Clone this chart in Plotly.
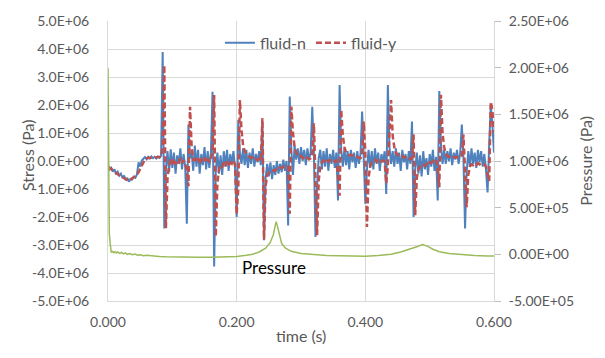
import plotly.graph_objects as go

# Sampling grid of the stress traces (s)
t_step = 0.0025
time_s = [round(i * t_step, 4) for i in range(241)]

# Stress, fluid-n (MPa)
stress_n_mpa = [
    -0.15, -0.30, -0.24, -0.38, -0.30, -0.45, -0.38, -0.52, -0.45, -0.60,
    -0.52, -0.68, -0.60, -0.74, -0.64, -0.66, -0.56, -0.60, -0.48, -0.05,
    -0.20, 0.02, 0.08, 0.14, 0.06, 0.15, 0.09, 0.16, 0.10, 0.15,
    0.09, 0.16, 0.11, 0.18, 3.89, -2.41, -0.30, 0.35, -0.40, 0.42,
    -0.25, 0.30, -0.45, 0.20, -0.10, 0.45, -0.30, 0.25, -0.20, -2.24,
    1.30, 0.10, 0.30, -0.35, 0.55, -0.20, 0.40, -0.45, 0.25, -0.15,
    0.50, -0.30, 0.35, -0.25, 0.30, 2.47, -3.77, -0.40, 0.30, -0.45,
    0.20, -0.50, 0.35, -0.20, 0.40, -0.35, 0.25, -0.10, 0.35, -0.25,
    -2.00, 1.47, 0.30, -0.10, 0.45, -0.15, 0.40, -0.25, 0.30, -0.10,
    0.45, -0.20, 0.25, -0.05, 0.35, -0.15, 1.41, -2.83, -0.60, -0.10,
    -0.55, -0.05, -0.65, -0.15, -0.50, 0.00, -0.45, -0.10, -0.40, 0.05,
    -0.35, 0.00, -2.30, 2.30, 0.40, -0.50, 0.55, 0.05, 0.45, -0.10,
    0.50, 0.00, 0.40, -0.15, 0.45, 0.05, 0.30, 1.94, 0.30, -2.71,
    -0.90, 0.10, 0.40, -0.30, 0.35, -0.20, 0.45, -0.35, 0.25, -0.10,
    0.40, -0.25, 0.30, -1.41, 2.71, 0.40, -0.20, 0.45, -0.15, 0.35,
    -0.30, 0.40, -0.05, 0.30, -0.25, 0.35, -0.10, 0.25, 1.77, 0.20,
    -1.53, -0.30, 0.40, -0.25, 0.35, -0.30, 0.45, -0.10, 0.30, -0.35,
    0.25, -0.05, 0.35, -1.18, 2.71, 0.50, -0.10, 0.35, -0.20, 0.45,
    -0.10, 0.30, -0.35, 0.40, -0.05, 0.25, -0.30, 0.35, -0.10, 1.41,
    -2.00, -0.30, 0.30, -0.45, 0.20, -0.55, 0.35, -0.30, 0.10, -0.50,
    0.25, -0.20, 0.40, -0.35, 0.15, -1.41, 2.50, 0.60, -0.10, 0.40,
    -0.10, 0.35, 0.00, 0.45, -0.15, 0.30, 0.05, 0.40, -0.10, 0.30,
    1.30, 0.10, -2.41, -0.40, 0.35, -0.20, 0.45, -0.10, 0.30, -0.25,
    0.40, -0.05, 0.35, -0.20, 0.25, -0.30, -1.12, 0.60, 2.00, 1.30,
    0.30,
]

# Stress, fluid-y (MPa)
stress_y_mpa = [
    -0.20, -0.25, -0.30, -0.34, -0.39, -0.43, -0.47, -0.51, -0.55, -0.58,
    -0.62, -0.65, -0.68, -0.70, -0.66, -0.62, -0.58, -0.54, -0.50, -0.40,
    -0.28, -0.15, -0.02, 0.06, 0.10, 0.11, 0.12, 0.12, 0.13, 0.12,
    0.13, 0.13, 0.14, 0.15, 0.50, 3.42, -2.40, -0.60, -0.15, 0.05,
    -0.10, 0.08, -0.12, 0.00, -0.05, 0.10, -0.08, 0.02, -0.10, -0.30,
    -0.90, 1.94, 0.50, 0.05, 0.08, -0.05, 0.10, -0.10, 0.05, -0.02,
    0.12, -0.05, 0.08, -0.04, 0.10, 0.30, 2.36, -2.70, -0.80, -0.30,
    -0.15, -0.20, -0.05, -0.18, -0.02, -0.15, -0.05, -0.10, 0.00, -0.12,
    -1.90, -1.00, 2.18, 1.10, 0.55, 0.35, 0.25, 0.18, 0.15, 0.10,
    0.12, 0.05, 0.08, 0.03, 0.06, 0.00, 1.53, -2.80, -0.90, -0.50,
    -0.42, -0.38, -0.40, -0.33, -0.35, -0.28, -0.30, -0.24, -0.25, -0.20,
    -0.22, -0.18, -0.20, -1.88, 1.94, 1.00, 0.50, 0.30, 0.22, 0.15,
    0.18, 0.10, 0.14, 0.08, 0.12, 0.06, 0.10, 0.30, 1.35, -0.40,
    -2.65, -0.70, -0.20, -0.05, 0.02, -0.03, 0.05, -0.02, 0.03, 0.00,
    0.04, -0.02, 0.02, -0.50, -1.24, 1.83, 0.90, 0.50, 0.30, 0.25,
    0.20, 0.22, 0.18, 0.17, 0.14, 0.15, 0.12, 0.10, 0.20, 1.41,
    0.30, -2.36, -0.60, -0.20, -0.05, 0.00, 0.05, -0.03, 0.02, -0.05,
    0.00, 0.02, -0.02, -0.80, -0.20, 0.80, 2.18, 0.90, 0.50, 0.30,
    0.22, 0.20, 0.15, 0.18, 0.12, 0.14, 0.08, 0.10, 0.06, 0.10,
    0.95, -1.94, -0.60, -0.30, -0.20, -0.22, -0.15, -0.18, -0.10, -0.15,
    -0.05, -0.08, 0.00, -0.05, 0.02, -0.20, -0.94, 2.36, 1.00, 0.50,
    0.25, 0.18, 0.15, 0.17, 0.13, 0.15, 0.12, 0.14, 0.12, 0.13,
    0.20, 0.94, -0.30, -1.65, -0.50, -0.20, -0.12, -0.15, -0.10, -0.14,
    -0.08, -0.12, -0.08, -0.10, -0.12, -0.20, -0.50, -0.71, 2.12, 1.80,
    1.00,
]

# Pressure trace (own sample times)
p_time_s = [
    0.0, 0.0005, 0.001, 0.002, 0.003, 0.004, 0.005, 0.007, 0.009, 0.011,
    0.013, 0.015, 0.018, 0.021, 0.024, 0.027, 0.030, 0.034, 0.038, 0.042,
    0.046, 0.050, 0.055, 0.060, 0.070, 0.080, 0.090, 0.100, 0.120, 0.140,
    0.160, 0.180, 0.200, 0.215, 0.225, 0.235, 0.245, 0.252, 0.257, 0.260,
    0.2615, 0.263, 0.266, 0.270, 0.276, 0.285, 0.300, 0.320, 0.340, 0.360,
    0.380, 0.400, 0.420, 0.440, 0.455, 0.470, 0.480, 0.489, 0.497, 0.505,
    0.515, 0.530, 0.550, 0.570, 0.590, 0.600,
]
pressure_pa = [
    2.0e6, 1.0e6, 2.6e5, 2.3e5, 1.4e5, 5.0e4, 2.5e4, 3.2e4, 1.8e4, 2.8e4,
    1.5e4, 2.5e4, 1.0e4, 2.0e4, 5.0e3, 1.5e4, 0.0, 8.0e3, -5.0e3, 3.0e3,
    -1.0e4, -4.0e3, -1.5e4, -1.0e4, -2.0e4, -2.2e4, -2.6e4, -2.8e4, -3.0e4, -3.2e4,
    -3.2e4, -3.0e4, -2.4e4, -1.0e4, 2.0e3, 2.5e4, 6.5e4, 1.25e5, 2.1e5, 3.1e5,
    3.5e5, 3.1e5, 2.1e5, 1.15e5, 6.5e4, 3.2e4, 1.0e4, -5.0e3, -1.2e4, -1.6e4,
    -1.9e4, -2.0e4, -1.2e4, 2.0e3, 2.5e4, 5.5e4, 8.2e4, 1.06e5, 8.5e4, 5.5e4,
    2.8e4, 1.0e4, -3.0e3, -1.2e4, -1.7e4, -1.8e4,
]

# Axis ticks
stress_ticks = [-5e6, -4e6, -3e6, -2e6, -1e6, 0, 1e6, 2e6, 3e6, 4e6, 5e6]
stress_tick_text = ["-5.0E+06", "-4.0E+06", "-3.0E+06", "-2.0E+06", "-1.0E+06",
                    "0.0E+00", "1.0E+06", "2.0E+06", "3.0E+06", "4.0E+06", "5.0E+06"]
pressure_ticks = [-5e5, 0, 5e5, 1e6, 1.5e6, 2e6, 2.5e6]
pressure_tick_text = ["-5.00E+05", "0.00E+00", "5.00E+05", "1.00E+06",
                      "1.50E+06", "2.00E+06", "2.50E+06"]
time_ticks = [0.0, 0.2, 0.4, 0.6]
time_tick_text = ["0.000", "0.200", "0.400", "0.600"]

FONT = "Lato"
GREY = "#595959"
GRID = "#D9D9D9"

fig = go.Figure()
fig.add_trace(go.Scatter(
    x=time_s, y=[v * 1e6 for v in stress_n_mpa], name="fluid-n", mode="lines",
    line=dict(color="#4F81BD", width=2),
))
fig.add_trace(go.Scatter(
    x=time_s, y=[v * 1e6 for v in stress_y_mpa], name="fluid-y", mode="lines",
    line=dict(color="#C0504D", width=2.5, dash="6px,3px"),
))
fig.add_trace(go.Scatter(
    x=p_time_s, y=pressure_pa, name="Pressure", mode="lines", yaxis="y2",
    line=dict(color="#9BBB59", width=1.5), showlegend=False,
))

fig.update_layout(
    width=605, height=358,
    margin=dict(l=108, r=111, t=18, b=57),
    paper_bgcolor="white", plot_bgcolor="white",
    font=dict(family=FONT, color=GREY, size=14),
    showlegend=True,
    legend=dict(orientation="h", x=0.29, y=0.922, xanchor="left", yanchor="middle",
                bgcolor="rgba(0,0,0,0)", font=dict(size=16, color=GREY),
                itemwidth=30, tracegroupgap=0),
    xaxis=dict(range=[0, 0.6], tickvals=time_ticks, ticktext=time_tick_text,
               showgrid=True, gridcolor=GRID, gridwidth=1, zeroline=False,
               showline=True, linecolor=GRID, ticks="", ticklabelstandoff=8,
               tickfont=dict(size=14, color=GREY)),
    yaxis=dict(range=[-5e6, 5e6], tickvals=stress_ticks, ticktext=stress_tick_text,
               showgrid=True, gridcolor=GRID, gridwidth=1, zeroline=False,
               showline=True, linecolor=GRID, ticks="", ticklabelstandoff=15,
               tickfont=dict(size=14, color=GREY)),
    yaxis2=dict(range=[-5e5, 2.5e6], tickvals=pressure_ticks, ticktext=pressure_tick_text,
                overlaying="y", side="right", showgrid=False, zeroline=False,
                showline=True, linecolor=GRID, ticks="outside", ticklen=6,
                tickcolor="#BFBFBF", ticklabelstandoff=5,
                tickfont=dict(size=14, color=GREY)),
    annotations=[
        dict(text="Stress (Pa)", xref="paper", yref="paper", x=-0.238, y=0.52,
             textangle=-90, showarrow=False, font=dict(size=16, color=GREY)),
        dict(text="Pressure (Pa)", xref="paper", yref="paper", x=1.265, y=0.5,
             textangle=-90, showarrow=False, font=dict(size=16, color=GREY)),
        dict(text="time (s)", xref="paper", yref="paper", x=0.5, y=-0.163,
             showarrow=False, font=dict(size=16, color=GREY)),
        dict(text="Pressure", xref="x", yref="y", x=0.205, y=-3.8e6,
             xanchor="left", showarrow=False, font=dict(size=17, color="#000000")),
    ],
)

fig.write_html("out.html")
